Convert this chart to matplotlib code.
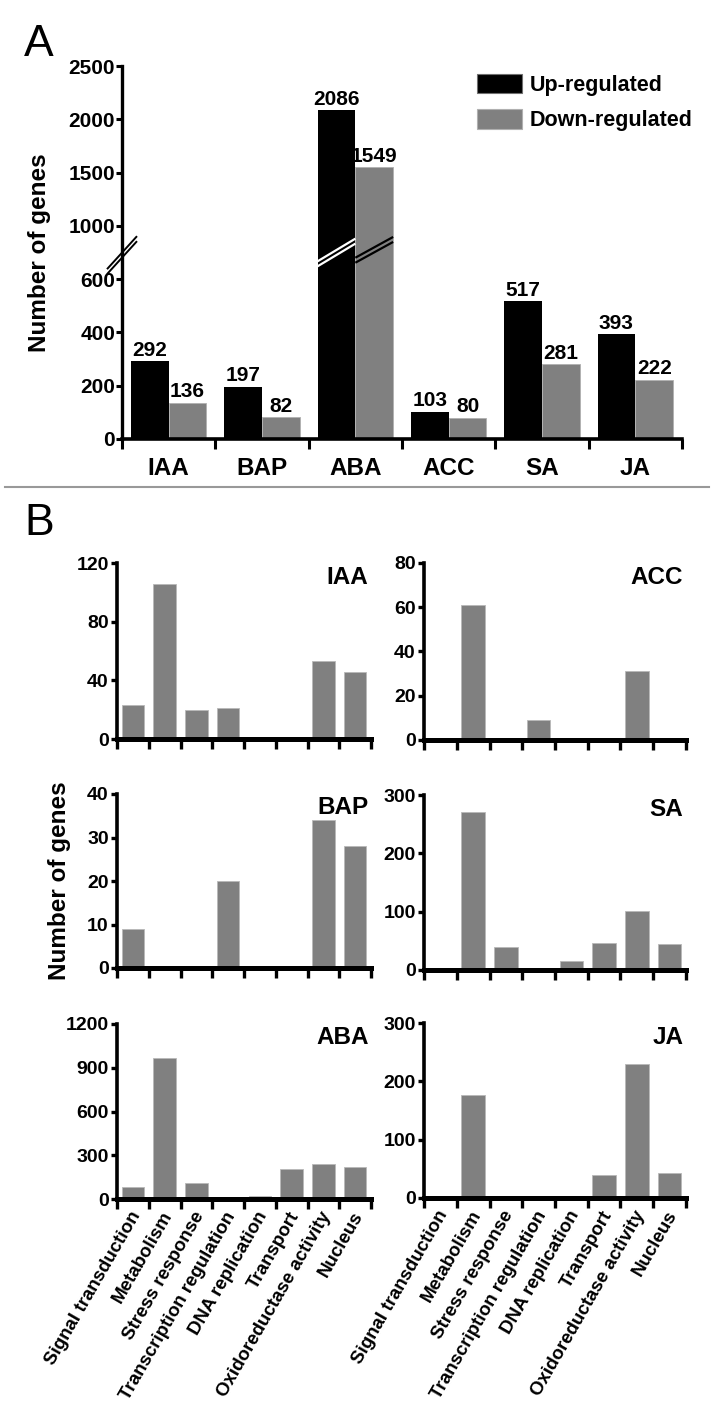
import numpy as np
import matplotlib
matplotlib.use("Agg")
import matplotlib.pyplot as plt
from matplotlib.patches import Patch
from matplotlib.lines import Line2D

plt.rcParams['font.family'] = ['Liberation Sans', 'DejaVu Sans']
plt.rcParams['font.weight'] = 'bold'

# ---------------- data ----------------
hormones = ['IAA', 'BAP', 'ABA', 'ACC', 'SA', 'JA']
up_regulated = [292, 197, 2086, 103, 517, 393]
down_regulated = [136, 82, 1549, 80, 281, 222]

categories = ['Signal transduction', 'Metabolism', 'Stress response',
              'Transcription regulation', 'DNA replication', 'Transport',
              'Oxidoreductase activity', 'Nucleus']
iaa_counts = [23, 106, 20, 21, 0, 0, 53, 46]
acc_counts = [0, 61, 0, 9, 0, 0, 31, 0]
bap_counts = [9, 0, 0, 20, 0, 0, 34, 28]
sa_counts = [0, 271, 40, 0, 16, 46, 101, 45]
aba_counts = [80, 966, 112, 0, 20, 206, 240, 217]
ja_counts = [0, 177, 0, 0, 0, 39, 229, 43]

a_yticks = [0, 200, 400, 600, 1000, 1500, 2000, 2500]
iaa_ticks = [0, 40, 80, 120]
acc_ticks = [0, 20, 40, 60, 80]
bap_ticks = [0, 10, 20, 30, 40]
sa_ticks = [0, 100, 200, 300]
aba_ticks = [0, 300, 600, 900, 1200]
ja_ticks = [0, 100, 200, 300]

BLACK = '#000000'
GRAY = '#808080'

W, H = 713, 1408
fig = plt.figure(figsize=(W / 100, H / 100), dpi=100)


def px_axes(x0, x1, ytop, ybot):
    return fig.add_axes([x0 / W, 1 - ybot / H, (x1 - x0) / W, (ybot - ytop) / H])


def to_fig(px, py):
    return fig.transFigure.inverted().transform((px, py))


def slash(ax, xd, vd, hw, slope, color, lw, gap):
    cx, cy = ax.transData.transform((xd, vd))
    for off in (-gap / 2, gap / 2):
        p0 = to_fig(cx - hw, cy - hw * slope + off)
        p1 = to_fig(cx + hw, cy + hw * slope + off)
        fig.add_artist(Line2D([p0[0], p1[0]], [p0[1], p1[1]], color=color,
                              lw=lw, solid_capstyle='butt', zorder=10))


# --------------- Panel A ---------------
def fwd(v):
    v = np.asarray(v, dtype=float)
    return np.where(v <= 600, v / 200.0,
                    np.where(v < 1000, 3 + (v - 600) / 400.0, 4 + (v - 1000) / 500.0))


def inv(s):
    s = np.asarray(s, dtype=float)
    return np.where(s <= 3, s * 200.0,
                    np.where(s < 4, 600 + (s - 3) * 400.0, 1000 + (s - 4) * 500.0))


axA = px_axes(122, 682, 66, 439)
axA.set_yscale('function', functions=(fwd, inv))
x = np.arange(len(hormones))
bw = 0.405
axA.bar(x - bw / 2, up_regulated, bw, color=BLACK, label='Up-regulated', zorder=2)
axA.bar(x + bw / 2, down_regulated, bw, color=GRAY, edgecolor='#b0b0b0',
        linewidth=0.6, label='Down-regulated', zorder=2)
axA.set_ylim(0, 2500)
axA.set_xlim(-0.5, len(hormones) - 0.5)
axA.set_yticks(a_yticks)
axA.set_yticklabels([str(t) for t in a_yticks])
axA.set_xticks(np.arange(-0.5, len(hormones), 1))
axA.set_xticklabels([])
axA.set_xticks(x, minor=True)
axA.set_xticklabels(hormones, minor=True, fontsize=17.5, fontweight='bold')
axA.tick_params(axis='x', which='minor', length=0, pad=13)
axA.tick_params(axis='x', which='major', length=7, width=2.2, direction='out')
axA.tick_params(axis='y', length=4, width=2.2, pad=1, labelsize=15)
for s in ('top', 'right'):
    axA.spines[s].set_visible(False)
axA.spines['left'].set_linewidth(2.4)
axA.spines['bottom'].set_linewidth(2.6)
axA.spines['left'].set_capstyle('projecting')
axA.set_ylabel('Number of genes', fontsize=17.5, fontweight='bold')
axA.yaxis.set_label_coords(-0.127, 0.5)

for i in range(len(hormones)):
    axA.annotate(str(up_regulated[i]), (x[i] - bw / 2, up_regulated[i]),
                 xytext=(0, 1), textcoords='offset points', ha='center', va='bottom',
                 fontsize=15, fontweight='bold')
    axA.annotate(str(down_regulated[i]), (x[i] + bw / 2, down_regulated[i]),
                 xytext=(0, 1), textcoords='offset points', ha='center', va='bottom',
                 fontsize=15, fontweight='bold')

leg = axA.legend(handles=[Patch(facecolor=BLACK, edgecolor='#707070', lw=0.8, label='Up-regulated'),
                          Patch(facecolor=GRAY, edgecolor='#b0b0b0', lw=0.8, label='Down-regulated')],
                 loc='upper left', bbox_to_anchor=to_fig(477, H - 74), bbox_transform=fig.transFigure,
                 frameon=False, fontsize=15.5, handlelength=2.1, handleheight=1.0,
                 handletextpad=0.33, labelspacing=0.62, borderpad=0, borderaxespad=0)
for t in leg.get_texts():
    t.set_fontweight('bold')

# axis break marks
bar_half_px = (axA.transData.transform((bw, 0))[0] - axA.transData.transform((0, 0))[0]) / 2
aba_i = hormones.index('ABA')
slash(axA, -0.5, 780, 15, 1.1, BLACK, 1.4, 5)
slash(axA, aba_i - bw / 2, 800, bar_half_px, 0.6, 'white', 1.6, 5)
slash(axA, aba_i + bw / 2, 820, bar_half_px, 0.55, BLACK, 1.6, 5)

fig.text(24 / W, 1 - 45 / H, 'A', fontsize=32, fontweight='normal', va='center', ha='left')

# separator line
p0 = to_fig(5, H - 487)
p1 = to_fig(709, H - 487)
fig.add_artist(Line2D([p0[0], p1[0]], [p0[1], p1[1]], color='#999999', lw=1.5))

fig.text(24 / W, 1 - 524 / H, 'B', fontsize=32, fontweight='normal', va='center', ha='left')

# --------------- Panel B ---------------
panels = [
    ('IAA', iaa_counts, iaa_ticks, (117, 371, 563, 739), False),
    ('ACC', acc_counts, acc_ticks, (424, 686, 563, 740), False),
    ('BAP', bap_counts, bap_ticks, (117, 371, 794, 968), False),
    ('SA', sa_counts, sa_ticks, (424, 686, 795, 970), False),
    ('ABA', aba_counts, aba_ticks, (117, 371, 1024, 1199), True),
    ('JA', ja_counts, ja_ticks, (424, 686, 1023, 1198), True),
]
xc = np.arange(len(categories))
for name, vals, ticks, (x0, x1, yt, yb), show_lab in panels:
    ax = px_axes(x0, x1, yt, yb)
    ax.bar(xc, vals, 0.71, color=GRAY, edgecolor='#b8b8b8', linewidth=0.6, zorder=2)
    ax.set_xlim(-0.5, len(categories) - 0.5)
    ax.set_ylim(0, ticks[-1])
    ax.set_yticks(ticks)
    ax.set_yticklabels([str(t) for t in ticks])
    ax.set_xticks(np.arange(-0.5, len(categories), 1))
    ax.set_xticklabels([])
    ax.tick_params(axis='x', which='major', length=7, width=2.4, direction='out')
    ax.tick_params(axis='y', length=4, width=2.4, pad=2, labelsize=14)
    for s in ('top', 'right'):
        ax.spines[s].set_visible(False)
    ax.spines['left'].set_linewidth(2.6)
    ax.spines['bottom'].set_linewidth(3.6)
    ax.spines['bottom'].set_capstyle('projecting')
    ax.spines['left'].set_capstyle('projecting')
    ax.text(0.99, 0.92, name, transform=ax.transAxes, ha='right', va='center',
            fontsize=17.5, fontweight='bold')
    if show_lab:
        ax.set_xticks(xc + 0.12, minor=True)
        ax.set_xticklabels(categories, minor=True, rotation=60, ha='right',
                           va='center', rotation_mode='anchor', fontsize=13.5,
                           fontweight='bold')
        ax.tick_params(axis='x', which='minor', length=0, pad=10)
    if name == 'BAP':
        ax.set_ylabel('Number of genes', fontsize=17.5, fontweight='bold')
        ax.yaxis.set_label_coords(-0.18, 0.5)

fig.savefig('out.png', dpi=100)
